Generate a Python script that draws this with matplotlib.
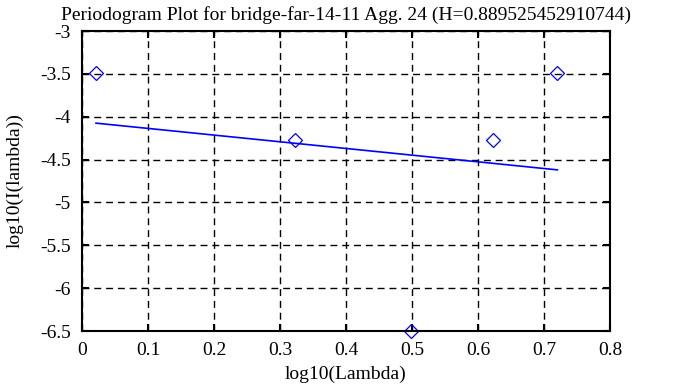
import matplotlib
matplotlib.use("Agg")
import matplotlib.pyplot as plt
import numpy as np

title = "Periodogram Plot for bridge-far-14-11 Agg. 24 (H=0.889525452910744)"
log_lambda = [0.0212, 0.3222, 0.4983, 0.6232, 0.7202]
log_i = [-3.49, -4.27, -6.5, -4.27, -3.49]
fit_x = [0.0212, 0.7202]
fit_y = [-4.075, -4.62]
xticks = [0, 0.1, 0.2, 0.3, 0.4, 0.5, 0.6, 0.7, 0.8]
yticks = [-3, -3.5, -4, -4.5, -5, -5.5, -6, -6.5]

plt.rcParams["font.family"] = ["Liberation Serif", "DejaVu Serif"]
plt.rcParams["font.size"] = 14

fig = plt.figure(figsize=(6.88, 3.87), dpi=100)
# axes box in pixels: left 82, right 610, top 31, bottom 331
ax = fig.add_axes([82 / 688, 1 - 331 / 387, 528 / 688, 300 / 387])

ax.plot(fit_x, fit_y, color="blue", lw=1.2)
ax.plot(log_lambda, log_i, ls="none", marker="D", markersize=7.5,
        markerfacecolor="none", markeredgecolor="blue", markeredgewidth=0.9,
        clip_on=False)

ax.set_xlim(0, 0.8)
ax.set_ylim(-6.5, -3)
ax.set_xticks(xticks)
ax.set_xticklabels([f"{t:g}" for t in xticks])
ax.set_yticks(yticks)
ax.set_yticklabels([f"{t:g}" for t in yticks])
ax.grid(True, color="black", ls=(0, (5, 3.5)), lw=1)
ax.tick_params(direction="in", length=5, width=1.5, top=True, right=True,
               labelsize=14)
ax.tick_params(axis="x", pad=8)
ax.tick_params(axis="y", pad=8)
for s in ax.spines.values():
    s.set_linewidth(1.5)

ax.set_title(title, fontsize=14, pad=8)
ax.set_xlabel("log10(Lambda)", labelpad=5)
ax.set_ylabel("log10(I(lambda))", labelpad=12)

fig.savefig("out.png", dpi=100)
